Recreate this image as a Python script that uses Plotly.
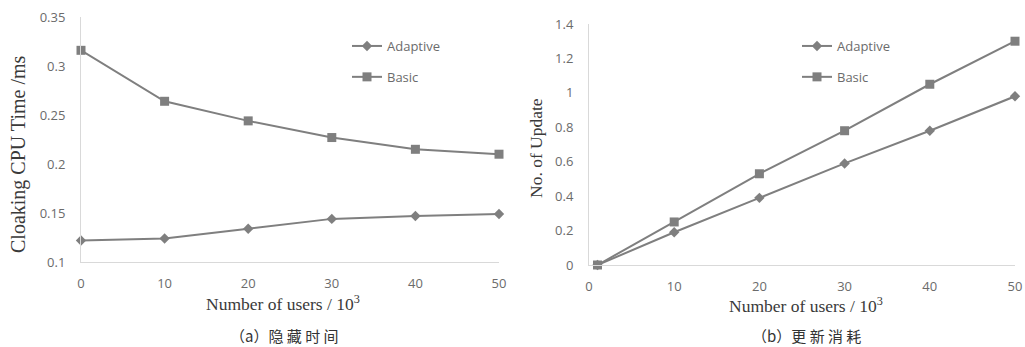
import plotly.graph_objects as go

# ---- data ----
users_a = [0, 10, 20, 30, 40, 50]
adaptive_a = [0.122, 0.124, 0.134, 0.144, 0.147, 0.149]
basic_a = [0.316, 0.264, 0.244, 0.227, 0.215, 0.210]

users_b = [1, 10, 20, 30, 40, 50]
adaptive_b = [0.0, 0.19, 0.39, 0.59, 0.78, 0.98]
basic_b = [0.0, 0.25, 0.53, 0.78, 1.05, 1.30]

series_names = ["Adaptive", "Basic"]
x_title = "Number of users / 10<sup>3</sup>"
y_title_a = "Cloaking CPU Time /ms"
y_title_b = "No. of Update"
caption_a = "（a）隐 藏 时 间"
caption_b = "（b）更 新 消 耗"

W, H = 1025, 347
LINE = "#7f7f7f"
TICKC = "#6b6b6b"
TITLEC = "#3a3a3a"
TICKFONT = dict(family="Open Sans", size=13, color=TICKC)
SERIF = "Liberation Serif"

fig = go.Figure()

def add_pair(x, ad, ba, xa, ya, leg):
    fig.add_trace(go.Scatter(
        x=x, y=ad, name=series_names[0], mode="lines+markers",
        line=dict(color=LINE, width=2), marker=dict(symbol="diamond", size=8, color=LINE),
        xaxis=xa, yaxis=ya, legend=leg, legendgroup=leg + "a", cliponaxis=False))
    fig.add_trace(go.Scatter(
        x=x, y=ba, name=series_names[1], mode="lines+markers",
        line=dict(color=LINE, width=2), marker=dict(symbol="square", size=9, color=LINE),
        xaxis=xa, yaxis=ya, legend=leg, legendgroup=leg + "b", cliponaxis=False))

add_pair(users_a, adaptive_a, basic_a, "x", "y", "legend")
add_pair(users_b, adaptive_b, basic_b, "x2", "y2", "legend2")

def px_x(p):
    return p / W

def px_y(p):
    return 1 - p / H

axis_common = dict(showgrid=False, zeroline=False, showline=True, linecolor="#d9d9d9",
                   linewidth=1, ticks="", tickfont=TICKFONT, automargin=False,
                   ticklabeloverflow="allow")

legend_font = dict(family="Open Sans", size=13, color=TICKC)

fig.update_layout(
    width=W, height=H,
    margin=dict(l=0, r=0, t=0, b=0),
    paper_bgcolor="white", plot_bgcolor="white",
    xaxis=dict(domain=[px_x(81), px_x(499)], range=[0, 50], dtick=10, anchor="y",
               ticklabelstandoff=9, **axis_common),
    yaxis=dict(domain=[px_y(262), px_y(17)], range=[0.1, 0.35], dtick=0.05, anchor="x",
               ticklabelstandoff=12, **axis_common),
    xaxis2=dict(domain=[px_x(589), px_x(1015)], range=[0, 50], dtick=10, anchor="y2",
                ticklabelstandoff=9, **axis_common),
    yaxis2=dict(domain=[px_y(265), px_y(24)], range=[0, 1.4], dtick=0.2, anchor="x2",
                ticklabelstandoff=12, **axis_common),
    legend=dict(x=px_x(347), y=px_y(31), xanchor="left", yanchor="top",
                bgcolor="rgba(0,0,0,0)", font=legend_font,
                itemwidth=30, traceorder="grouped", tracegroupgap=11),
    legend2=dict(x=px_x(797), y=px_y(31), xanchor="left", yanchor="top",
                 bgcolor="rgba(0,0,0,0)", font=legend_font,
                 itemwidth=30, traceorder="grouped", tracegroupgap=11),
    showlegend=True,
)

ann = []
def add_text(text, x, y, size, family, color, angle=0):
    ann.append(dict(text=text, x=px_x(x), y=px_y(y), xref="paper", yref="paper",
                    showarrow=False, xanchor="center", yanchor="middle", textangle=angle,
                    font=dict(family=family, size=size, color=color)))

add_text(x_title, 283, 303, 17.5, SERIF, TITLEC)
add_text(x_title, 806, 305, 17.5, SERIF, TITLEC)
add_text(y_title_a, 18, 155, 20, SERIF, TITLEC, -90)
add_text(y_title_b, 536, 148, 17.5, SERIF, TITLEC, -90)
add_text(caption_a, 284, 335, 15, "Noto Sans CJK SC", "#333333")
add_text(caption_b, 806, 335, 15, "Noto Sans CJK SC", "#333333")
fig.update_layout(annotations=ann)

fig.write_html(
    "out.html",
    config={"displayModeBar": False},
    post_script="document.documentElement.style.margin='0';document.body.style.margin='0';"
                "document.body.style.overflow='hidden';document.documentElement.style.overflow='hidden';",
)
